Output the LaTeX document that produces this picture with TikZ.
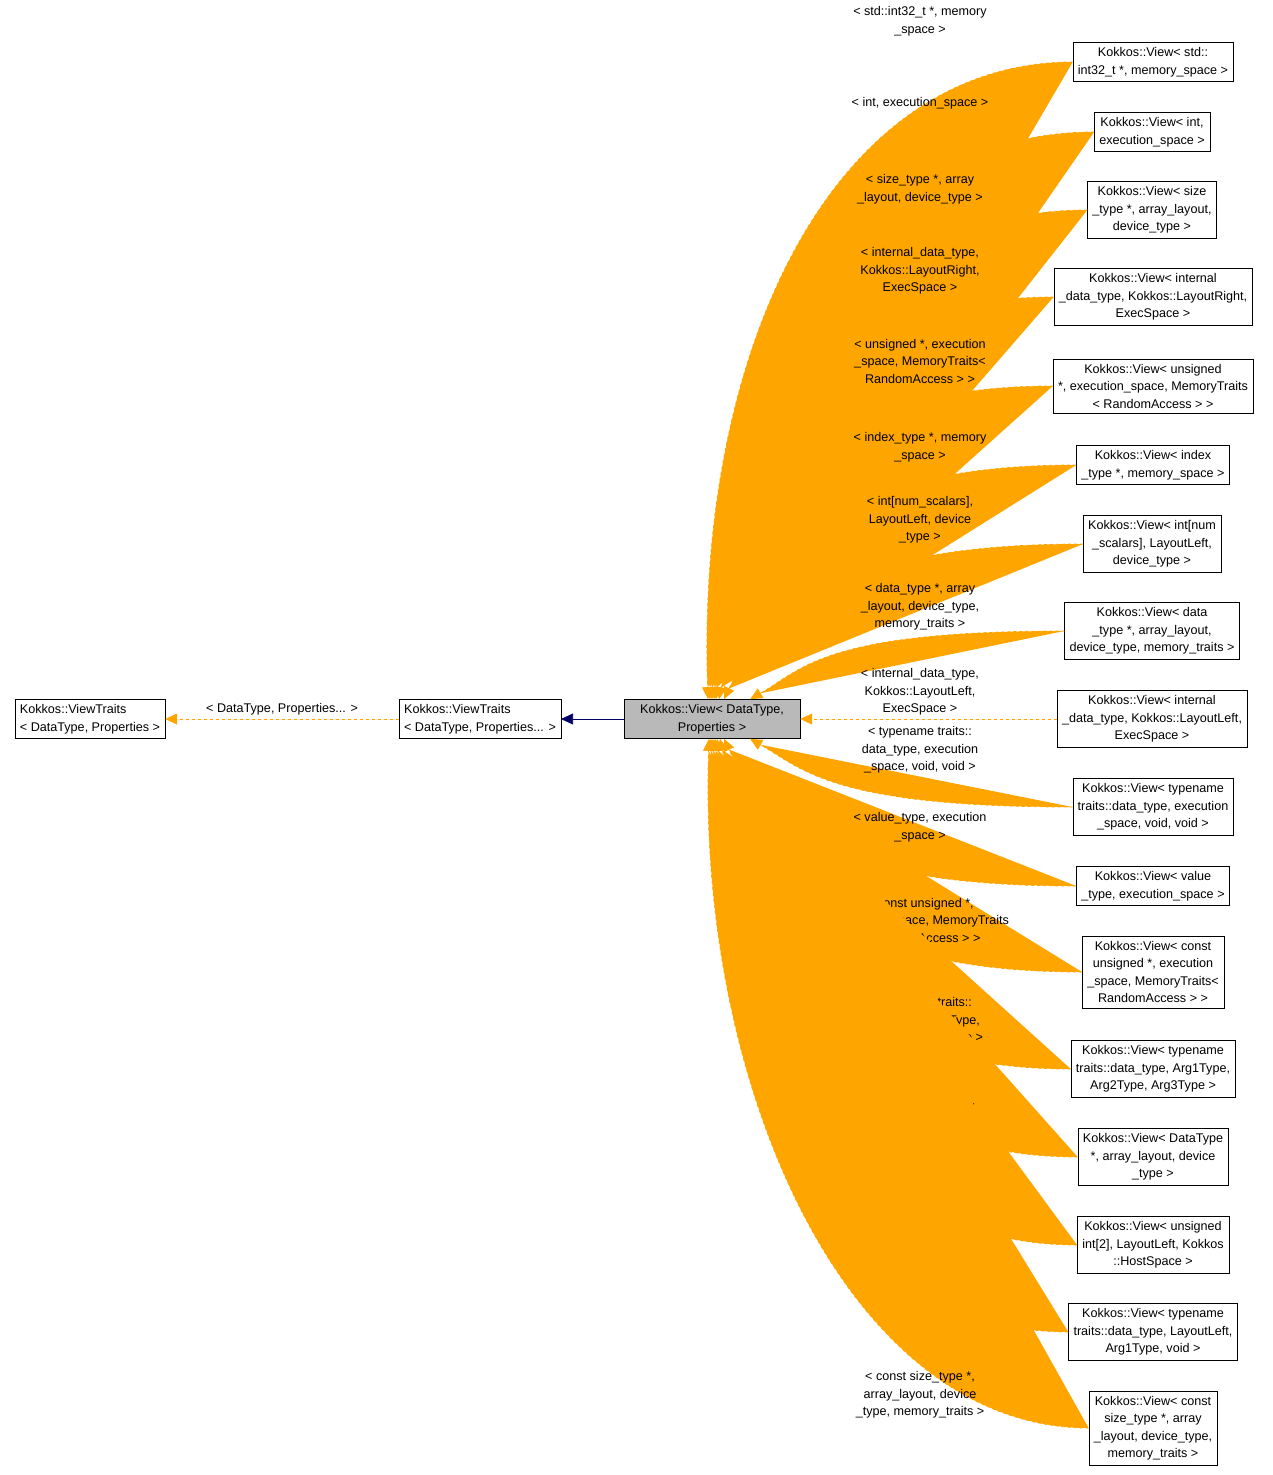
\documentclass[tikz,border=0pt]{standalone}
\usepackage{fontspec}
\setmainfont{Liberation Sans}
\usetikzlibrary{arrows.meta,calc}
\definecolor{deporange}{RGB}{255,165,0}
\tikzset{
  cls/.style={draw,fill=white,align=center,inner sep=5pt,font=\fontsize{12.6}{17.5}\selectfont},
  lbl/.style={align=center,text=black,font=\fontsize{12.6}{17.5}\selectfont},
  dep/.style={draw=deporange,fill=deporange,dashed,line width=0.8pt,-{Triangle[length=12pt,width=11pt]}}
}
\newcommand{\viewbox}[4]{\node[cls] (#1) at (#2,#3) {#4};}
\newcommand{\deplink}[6]{\draw[dep] (#1.west) to[out=180,in=#3,out distance=240pt,in distance=#6pt] (#2); \node[lbl] (#1l) at (920,#4) {#5};}
\begin{document}
\begin{tikzpicture}[x=1pt,y=-1pt]
    \useasboundingbox (0,0) rectangle (1272,1475);
    \node[cls,align=left] (traits) at (90,719) {Kokkos::ViewTraits\\< DataType, Properties >};
    \node[cls,align=left] (traitsp) at (480,719) {Kokkos::ViewTraits\\< DataType, Properties... >};
    \node[cls,fill=gray!55,minimum width=176pt] (view) at (712,719) {Kokkos::View< DataType,\\ Properties >};
    \draw[-{Triangle[length=12pt,width=11pt]},line width=0.8pt,draw=blue!40!black,fill=blue!40!black] (view) -- (traitsp);
    \draw[dep] (traitsp) -- (traits) node[lbl,midway,above] (traitsl) {< DataType, Properties... >};
    % derived views
    \viewbox{va}{1153}{62}{Kokkos::View< std::\\int32\_t *, memory\_space >}
    \viewbox{vb}{1152}{132}{Kokkos::View< int,\\ execution\_space >}
    \viewbox{vc}{1152}{210}{Kokkos::View< size\\\_type *, array\_layout,\\ device\_type >}
    \viewbox{vd}{1153}{297}{Kokkos::View< internal\\\_data\_type, Kokkos::LayoutRight,\\ ExecSpace >}
    \viewbox{ve}{1153}{386}{Kokkos::View< unsigned\\ *, execution\_space, MemoryTraits\\< RandomAccess > >}
    \viewbox{vf}{1153}{465}{Kokkos::View< index\\\_type *, memory\_space >}
    \viewbox{vg}{1152}{544}{Kokkos::View< int[num\\\_scalars], LayoutLeft,\\ device\_type >}
    \viewbox{vh}{1152}{631}{Kokkos::View< data\\\_type *, array\_layout,\\ device\_type, memory\_traits >}
    \viewbox{vi}{1152}{719}{Kokkos::View< internal\\\_data\_type, Kokkos::LayoutLeft,\\ ExecSpace >}
    \viewbox{vj}{1153}{807}{Kokkos::View< typename\\ traits::data\_type, execution\\\_space, void, void >}
    \viewbox{vk}{1153}{886}{Kokkos::View< value\\\_type, execution\_space >}
    \viewbox{vl}{1153}{972}{Kokkos::View< const\\ unsigned *, execution\\\_space, MemoryTraits<\\ RandomAccess > >}
    \viewbox{vm}{1153}{1069}{Kokkos::View< typename\\ traits::data\_type, Arg1Type,\\ Arg2Type, Arg3Type >}
    \viewbox{vn}{1153}{1157}{Kokkos::View< DataType\\ *, array\_layout, device\\\_type >}
    \viewbox{vo}{1153}{1245}{Kokkos::View< unsigned\\ int[2], LayoutLeft, Kokkos\\::HostSpace >}
    \viewbox{vp}{1153}{1332}{Kokkos::View< typename\\ traits::data\_type, LayoutLeft,\\ Arg1Type, void >}
    \viewbox{vq}{1153}{1428}{Kokkos::View< const\\ size\_type *, array\\\_layout, device\_type,\\ memory\_traits >}
    % template arguments
    \deplink{va}{$(view.north)+(-4,0)$}{92}{21}{< std::int32\_t *, memory\\\_space >}{350}
    \deplink{vb}{$(view.north)+(-2,0)$}{92}{103}{< int, execution\_space >}{320}
    \deplink{vc}{$(view.north)+(0,0)$}{90}{189}{< size\_type *, array\\\_layout, device\_type >}{280}
    \deplink{vd}{$(view.north)+(2,0)$}{88}{271}{< internal\_data\_type,\\Kokkos::LayoutRight,\\ ExecSpace >}{240}
    \deplink{ve}{$(view.north)+(4,0)$}{86}{361}{< unsigned *, execution\\\_space, MemoryTraits<\\ RandomAccess > >}{200}
    \deplink{vf}{$(view.north)+(7,0)$}{80}{447}{< index\_type *, memory\\\_space >}{150}
    \deplink{vg}{$(view.north)+(12,0)$}{65}{520}{< int[num\_scalars],\\LayoutLeft, device\\\_type >}{100}
    \deplink{vh}{$(view.north east)+(-50,0)$}{30}{607}{< data\_type *, array\\\_layout, device\_type,\\ memory\_traits >}{60}
    \draw[dep] (vi) -- (view); \node[lbl] (vil) at (920,692) {< internal\_data\_type,\\Kokkos::LayoutLeft,\\ ExecSpace >};
    \deplink{vj}{$(view.south east)+(-50,0)$}{-30}{750}{< typename traits::\\data\_type, execution\\\_space, void, void >}{60}
    \deplink{vk}{$(view.south)+(12,0)$}{-65}{827}{< value\_type, execution\\\_space >}{100}
    \deplink{vl}{$(view.south)+(8,0)$}{-78}{920}{< const unsigned *,\\execution\_space, MemoryTraits\\< RandomAccess > >}{150}
    \deplink{vm}{$(view.south)+(5,0)$}{-84}{1021}{< typename traits::\\data\_type, Arg1Type,\\ Arg2Type, Arg3Type >}{200}
    \deplink{vn}{$(view.south)+(3,0)$}{-87}{1116}{< DataType *, array\\\_layout, device\_type >}{240}
    \deplink{vo}{$(view.south)+(1,0)$}{-89}{1212}{< unsigned int[2],\\LayoutLeft, Kokkos\\::HostSpace >}{280}
    \deplink{vp}{$(view.south)+(-1,0)$}{-90}{1291}{< typename traits::\\data\_type, LayoutLeft,\\ Arg1Type, void >}{320}
    \deplink{vq}{$(view.south)+(-3,0)$}{-92}{1395}{< const size\_type *,\\array\_layout, device\\\_type, memory\_traits >}{350}
\end{tikzpicture}
\end{document}
